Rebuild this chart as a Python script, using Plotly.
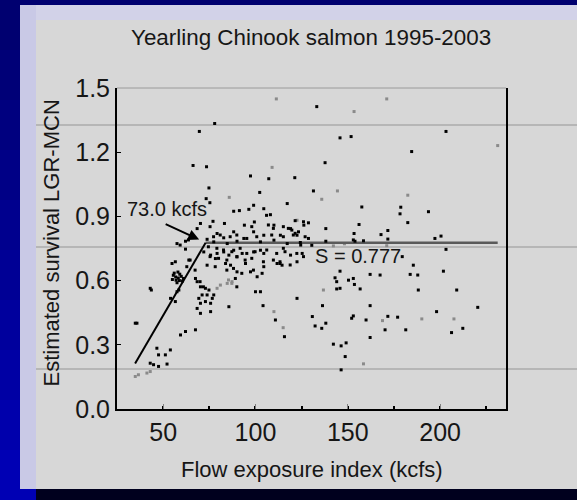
import plotly.graph_objects as go

# ---- data: yearling Chinook survival LGR-MCN vs flow exposure index ----
flow_black = [
    77.9, 69.6, 66.2, 73.5, 97.3, 107.2, 121.3, 74.8, 102.3, 73.3, 75.3, 117.2, 99.0, 104.5,
    88.2, 91.3, 96.4, 108.1, 106.0, 83.2, 94.0, 99.4, 70.2, 68.4, 77.0, 110.0, 119.0, 126.2,
    88.2, 79.2, 99.0, 104.5, 113.5, 122.5, 93.7, 82.8, 57.5, 62.1, 73.8, 77.4, 84.7, 90.0,
    102.7, 110.0, 117.2, 124.3,
    62.1, 54.8, 56.6, 63.9, 72.0, 75.7, 78.3, 79.2, 82.8, 85.6, 88.2, 90.0, 92.8, 94.6, 83.8,
    86.5, 73.8, 99.0, 102.7, 104.5, 111.7, 114.4, 119.0, 122.5, 125.3, 90.0, 89.1, 97.3,
    100.9, 103.6, 104.5,
    55.5, 56.8, 58.2, 57.0, 58.8, 59.8, 55.0, 57.5, 60.5, 59.0, 56.0, 58.0, 61.0,
    54.0, 56.6, 58.5, 57.5, 67.5, 68.4,
    70.2, 72.9, 74.8, 71.1, 69.3, 73.8, 76.6, 77.4, 70.2, 72.9, 75.7, 68.4, 70.2, 75.7,
    85.6, 100.0, 102.7, 104.1, 122.5, 110.8, 115.7,
    43.0, 43.6, 34.9, 35.8, 59.4, 62.1, 67.5, 46.6, 47.5, 51.2, 53.9, 43.0, 44.8, 47.5, 52.1,
    133.2, 203.2, 145.8, 151.8, 184.6, 137.7, 131.4, 157.6, 178.7, 178.3, 193.7, 182.5, 128.7,
    156.1, 138.1, 153.4, 171.7, 168.0, 200.5, 197.2, 128.7, 130.5, 138.1, 153.9, 158.5, 171.7,
    203.2,
    185.5, 145.8, 162.1, 167.5, 183.8, 187.9, 201.8, 143.1, 144.0, 150.4, 153.0, 153.6, 144.0,
    145.8, 156.7, 188.2, 209.0, 136.3, 162.1, 220.4, 198.1, 130.8, 153.0, 152.1, 159.9, 171.7,
    177.0, 132.3, 135.9, 138.1, 170.2, 181.4, 212.3, 206.2, 162.1, 142.2, 146.4, 149.1, 148.6,
    146.4, 179.5,
    121.5, 126.0, 115.1, 117.8, 123.3, 120.5, 126.9, 124.5, 115.1, 122.4, 126.0, 113.3, 118.8,
    153.0,
    75.4, 98.0, 107.0, 109.7, 119.7, 121.5, 77.3, 80.9, 86.3, 89.9, 95.3, 100.7, 108.8, 115.1,
    63.7, 59.2, 74.5, 79.1, 82.7, 87.2, 91.7, 95.3, 99.8, 106.1, 111.5, 116.0,
    75.4, 80.0, 84.5, 89.9, 94.4, 98.0, 104.3, 109.7, 113.3, 64.6, 62.8, 67.3,
    78.2, 84.5, 88.1, 92.6, 98.9, 89.9, 70.0, 71.8,
]
surv_black = [
    1.334, 1.297, 1.138, 1.132, 1.089, 1.076, 1.081, 1.033, 1.012, 0.983, 0.964, 0.960, 0.952, 0.936,
    0.924, 0.927, 0.933, 0.908, 0.905, 0.867, 0.859, 0.874, 0.867, 0.843, 0.877, 0.859, 0.843, 0.859,
    0.828, 0.820, 0.828, 0.812, 0.812, 0.812, 0.797, 0.800, 0.773, 0.784, 0.793, 0.781, 0.773, 0.784,
    0.781, 0.789, 0.773, 0.778,
    0.747, 0.680, 0.688, 0.696, 0.734, 0.719, 0.703, 0.727, 0.734, 0.719, 0.742, 0.711, 0.727, 0.680, 0.680,
    0.672, 0.672, 0.734, 0.742, 0.727, 0.680, 0.672, 0.719, 0.688, 0.727, 0.641, 0.610, 0.641,
    0.618, 0.634, 0.665,
    0.625, 0.617, 0.612, 0.602, 0.600, 0.620, 0.605, 0.590, 0.598, 0.630, 0.635, 0.640, 0.610,
    0.517, 0.502, 0.556, 0.548, 0.610, 0.595,
    0.571, 0.564, 0.556, 0.533, 0.517, 0.533, 0.517, 0.533, 0.494, 0.502, 0.494, 0.470, 0.447, 0.455,
    0.478, 0.548, 0.548, 0.483, 0.517, 0.416, 0.338,
    0.564, 0.556, 0.401, 0.401, 0.346, 0.362, 0.370, 0.284, 0.253, 0.253, 0.276, 0.214, 0.207, 0.199, 0.210,
    1.413, 1.297, 1.267, 1.273, 1.203, 1.151, 1.019, 0.944, 0.943, 0.912, 0.922, 0.871, 0.870,
    0.862, 0.843, 0.820, 0.834, 0.815, 0.808, 0.797, 0.797, 0.765, 0.784, 0.784, 0.786, 0.794,
    0.746,
    0.672, 0.644, 0.629, 0.626, 0.629, 0.626, 0.644, 0.613, 0.595, 0.602, 0.610, 0.582, 0.561,
    0.564, 0.561, 0.556, 0.556, 0.483, 0.483, 0.475, 0.455, 0.432, 0.435, 0.424, 0.416, 0.433,
    0.429, 0.388, 0.377, 0.401, 0.370, 0.370, 0.377, 0.357, 0.334, 0.303, 0.295, 0.309, 0.245,
    0.183, 0.712,
    0.880, 0.875, 0.852, 0.844, 0.828, 0.813, 0.805, 0.766, 0.751, 0.727, 0.712, 0.688, 0.673,
    0.790,
    0.852, 0.852, 0.860, 0.844, 0.836, 0.821, 0.805, 0.813, 0.805, 0.813, 0.797, 0.805, 0.813, 0.805,
    0.790, 0.766, 0.758, 0.751, 0.743, 0.735, 0.751, 0.727, 0.735, 0.743, 0.727, 0.735,
    0.712, 0.704, 0.696, 0.712, 0.696, 0.704, 0.688, 0.696, 0.680, 0.696, 0.665, 0.649,
    0.665, 0.649, 0.657, 0.634, 0.649, 0.571, 0.595, 0.571,
]

flow_gray = [
    111.3, 109.0, 85.8, 122.5, 110.0, 115.0, 79.2, 81.0, 84.7, 87.3, 85.4, 87.2,
    34.9, 36.6, 41.2, 43.0,
    171.1, 153.4, 231.2, 144.4, 135.9, 182.5, 142.2, 148.2, 171.1,
    136.8, 168.8, 190.1, 207.5, 158.5,
]
surv_gray = [
    1.449, 1.129, 0.989, 0.882, 0.455, 0.380, 0.564, 0.579, 0.587, 0.595, 0.603, 0.587,
    0.152, 0.160, 0.168, 0.175,
    1.449, 1.390, 1.231, 1.019, 0.980, 0.999, 0.762, 0.772, 0.763,
    0.556, 0.413, 0.421, 0.421, 0.211,
]

# broken-stick fit: rising segment up to the breakpoint, then flat survival
break_flow = 73.0
plateau_surv = 0.777
ramp_start_flow = 34.8
ramp_start_surv = 0.213
fit_end_flow = max(flow_black + flow_gray)

x_ticks = [50, 100, 150, 200]
y_ticks = [0.0, 0.3, 0.6, 0.9, 1.2, 1.5]

# ---- page geometry ----
W, H = 577, 500
ML, MR, MT, MB = 117, 71, 88, 91
PW, PH = W - ML - MR, H - MT - MB
FONT = "Liberation Sans, Arial, sans-serif"
INK = "#161616"


def px(x):
    return (x - ML) / PW


def py(y):
    return (H - MB - y) / PH


def page_rect(x0, y0, x1, y1, color):
    return dict(type="rect", xref="paper", yref="paper", layer="below",
                x0=px(x0), x1=px(x1), y0=py(y0), y1=py(y1),
                fillcolor=color, line=dict(width=0))


def page_hline(y, x0, x1, color, width):
    return dict(type="line", xref="paper", yref="paper", layer="below",
                x0=px(x0), x1=px(x1), y0=py(y), y1=py(y),
                line=dict(color=color, width=width))


shapes = []
# slide frame: dark band at top, blue gradient on the left, dark strip at the bottom
for i in range(10):
    t = i / 9
    c = "rgb(0,0,%d)" % int(112 + t * 68)
    shapes.append(page_rect(0, i * 50, 20, (i + 1) * 50, c))
shapes.append(page_rect(0, 0, W, 5, "#000070"))
shapes.append(page_rect(20, 5, W, 20, "#d2d2e8"))
shapes.append(page_rect(20, 5, 36, 489, "#c9c9e6"))
shapes.append(page_rect(20, 489, 36, H, "#0000b4"))
shapes.append(page_rect(36, 489, W, H, "#00001e"))
# slide texture lines
for yy in (125, 247, 369):
    shapes.append(page_hline(yy, 36, W, "#b6b6b6", 2))
# thin top border of the plot box
shapes.append(dict(type="line", xref="paper", yref="paper", x0=0, x1=1, y0=1, y1=1,
                   line=dict(color="#9a9a9a", width=1)))

fig = go.Figure()
fig.add_trace(go.Scatter(
    x=flow_gray, y=surv_gray, mode="markers", hoverinfo="skip",
    marker=dict(symbol="square", size=3, color="#8a8a8a", line=dict(width=0))))
fig.add_trace(go.Scatter(
    x=[break_flow, fit_end_flow], y=[plateau_surv, plateau_surv], mode="lines",
    hoverinfo="skip", line=dict(color="#5a5a5a", width=2.5)))
fig.add_trace(go.Scatter(
    x=[ramp_start_flow, break_flow], y=[ramp_start_surv, plateau_surv], mode="lines",
    hoverinfo="skip", line=dict(color="#000000", width=2)))
fig.add_trace(go.Scatter(
    x=flow_black, y=surv_black, mode="markers", hoverinfo="skip",
    marker=dict(symbol="square", size=3, color="#000000", line=dict(width=0))))

annotations = [
    dict(text="Yearling Chinook salmon 1995-2003", xref="paper", yref="paper",
         x=px(311), y=py(37), showarrow=False, xanchor="center", yanchor="middle",
         font=dict(family=FONT, size=22.4, color=INK)),
    dict(text="Flow exposure index (kcfs)", xref="paper", yref="paper",
         x=px(312), y=py(469), showarrow=False, xanchor="center", yanchor="middle",
         font=dict(family=FONT, size=22, color=INK)),
    dict(text="Estimated survival LGR-MCN", xref="paper", yref="paper",
         x=px(50.5), y=py(243), showarrow=False, textangle=-90,
         xanchor="center", yanchor="middle",
         font=dict(family=FONT, size=22, color=INK)),
    dict(text="%.1f kcfs" % break_flow, x=52.2, y=0.935, showarrow=False,
         xanchor="center", yanchor="middle",
         font=dict(family=FONT, size=20, color=INK)),
    dict(text="", x=69.5, y=0.792, showarrow=True, ax=-35, ay=-16,
         arrowhead=2, arrowsize=1.1, arrowwidth=2, arrowcolor="#000000"),
    dict(text="S = %.3f" % plateau_surv, x=155.6, y=0.715, showarrow=False,
         xanchor="center", yanchor="middle",
         font=dict(family=FONT, size=20, color=INK)),
]

fig.update_layout(
    width=W, height=H,
    margin=dict(l=ML, r=MR, t=MT, b=MB, pad=0),
    paper_bgcolor="#d7d7d7", plot_bgcolor="rgba(0,0,0,0)",
    showlegend=False,
    shapes=shapes,
    annotations=annotations,
    xaxis=dict(
        range=[25, 235.7], tickvals=x_ticks, ticks="inside", ticklen=5,
        tickcolor="#808080", tickwidth=1,
        showline=True, linecolor="#000000", linewidth=2, mirror=False,
        showgrid=False, zeroline=False,
        tickfont=dict(family=FONT, size=25, color=INK),
        minor=dict(ticks="inside", ticklen=3, tickcolor="#000000", tickwidth=2,
                   dtick=25, tick0=0, showgrid=False),
    ),
    yaxis=dict(
        range=[0, 1.5], tickvals=y_ticks, tickformat=".1f", ticks="inside", ticklen=4,
        tickcolor="#000000", tickwidth=1,
        showline=True, linecolor="#000000", linewidth=2, mirror=True,
        showgrid=False, zeroline=False,
        tickfont=dict(family=FONT, size=25, color=INK),
    ),
)

fig.write_html("out.html")
